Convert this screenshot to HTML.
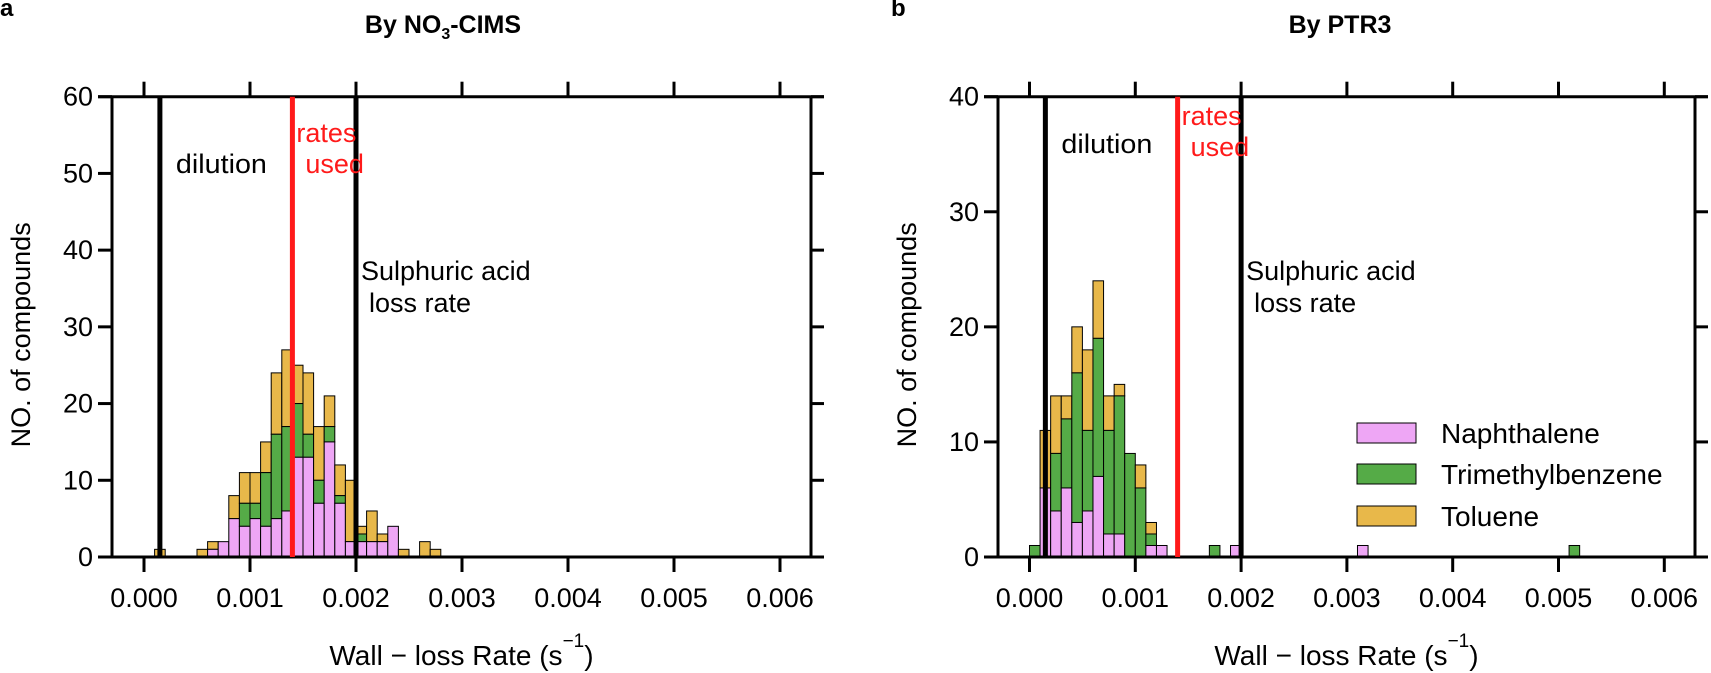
<!DOCTYPE html>
<html><head><meta charset="utf-8"><style>
html,body{margin:0;padding:0;background:#fff;}
svg{display:block;font-family:"Liberation Sans",Arial,sans-serif;}
</style></head><body>
<svg id="s" width="1711" height="673" viewBox="0 0 1711 673" xmlns="http://www.w3.org/2000/svg">
<text x="0" y="16" font-size="24" font-weight="bold">a</text>
<text x="891" y="16" font-size="24" font-weight="bold">b</text>
<text x="443" y="33" font-size="25" font-weight="bold" text-anchor="middle">By NO<tspan font-size="16" dy="6">3</tspan><tspan dy="-6">-CIMS</tspan></text>
<text x="1340" y="33" font-size="25" font-weight="bold" text-anchor="middle">By PTR3</text>
<g id="L"></g><g id="R"></g>
</svg>
<script>
var NS="http://www.w3.org/2000/svg";
function el(p,t,a,txt){var e=document.createElementNS(NS,t);for(var k in a)e.setAttribute(k,a[k]);if(txt!=null)e.textContent=txt;p.appendChild(e);return e;}
var PINK="#eea6f5",GREEN="#55ab47",TAN="#e8b84a";
function panel(g,x0,sx,ymax,yStep,L,R,bins,ann){
  var T=96.7,B=557,sy=(B-T)/ymax;
  function X(v){return x0+v*sx;} function Y(c){return B-c*sy;}
  bins.forEach(function(b){
    var xa=X(b[0]),w=X(b[0]+0.0001)-xa,p=b[1],gr=b[2],t=b[3];
    if(t>gr) el(g,"rect",{x:xa,y:Y(t),width:w,height:Y(gr)-Y(t),fill:TAN,stroke:"#000","stroke-width":1});
    if(gr>p) el(g,"rect",{x:xa,y:Y(gr),width:w,height:Y(p)-Y(gr),fill:GREEN,stroke:"#000","stroke-width":1});
    if(p>0) el(g,"rect",{x:xa,y:Y(p),width:w,height:Y(0)-Y(p),fill:PINK,stroke:"#000","stroke-width":1});
  });
  el(g,"line",{x1:L,y1:T,x2:L,y2:B,stroke:"#000","stroke-width":3});
  el(g,"line",{x1:R,y1:T,x2:R,y2:B,stroke:"#000","stroke-width":3});
  el(g,"line",{x1:L-14,y1:T,x2:R+13,y2:T,stroke:"#000","stroke-width":3});
  el(g,"line",{x1:L-14,y1:B,x2:R+13,y2:B,stroke:"#000","stroke-width":3});
  for(var c=0;c<=ymax;c+=yStep){
    el(g,"line",{x1:L-14,y1:Y(c),x2:L,y2:Y(c),stroke:"#000","stroke-width":3});
    el(g,"line",{x1:R,y1:Y(c),x2:R+13,y2:Y(c),stroke:"#000","stroke-width":3});
    el(g,"text",{x:L-19,y:Y(c)+9,"font-size":27,"text-anchor":"end"},String(c));
  }
  for(var i=0;i<=6;i++){
    var xx=X(i*0.001);
    el(g,"line",{x1:xx,y1:T-15,x2:xx,y2:T,stroke:"#000","stroke-width":3});
    el(g,"line",{x1:xx,y1:B,x2:xx,y2:B+15,stroke:"#000","stroke-width":3});
    el(g,"text",{x:xx,y:607,"font-size":27,"text-anchor":"middle"},"0.00"+i);
  }
  el(g,"line",{x1:X(0.00015),y1:T,x2:X(0.00015),y2:B,stroke:"#000","stroke-width":5});
  el(g,"line",{x1:X(0.002),y1:T,x2:X(0.002),y2:B,stroke:"#000","stroke-width":5});
  el(g,"line",{x1:X(0.0014),y1:T,x2:X(0.0014),y2:B,stroke:"#ff1a1a","stroke-width":5});
  el(g,"text",{x:X(0.00015)+16,y:ann[0],"font-size":27,textLength:91,lengthAdjust:"spacingAndGlyphs"},"dilution");
  el(g,"text",{x:X(0.0014)+4,y:ann[1],"font-size":27,fill:"#ff1a1a"},"rates");
  el(g,"text",{x:X(0.0014)+13,y:ann[1]+31,"font-size":27,fill:"#ff1a1a"},"used");
  el(g,"text",{x:X(0.002)+5,y:280,"font-size":27},"Sulphuric acid");
  el(g,"text",{x:X(0.002)+13,y:312,"font-size":27},"loss rate");
  var cx=(L+R)/2;
  var t=el(g,"text",{x:cx,y:665,"font-size":28,"text-anchor":"middle"},"Wall \u2212 loss Rate (s");
  el(t,"tspan",{"font-size":19,dy:-18},"\u22121");
  el(t,"tspan",{dy:18},")");
  el(g,"text",{transform:"translate("+(L-82)+","+((T+B)/2+8)+") rotate(-90)","font-size":27,"text-anchor":"middle"},"NO. of compounds");
}
var lb=[[0.0001,0,0,1],[0.0005,0,0,1],[0.0006,1,1,2],[0.0007,2,2,2],[0.0008,5,5,8],[0.0009,4,7,11],[0.0010,5,7,11],[0.0011,4,11,15],[0.0012,5,16,24],[0.0013,6,17,27],[0.0014,13,20,25],[0.0015,13,16,24],[0.0016,7,10,17],[0.0017,15,17,21],[0.0018,7,8,12],[0.0019,2,2,10],[0.0020,2,3,4],[0.0021,2,2,6],[0.0022,2,2,3],[0.0023,4,4,4],[0.0024,0,0,1],[0.0026,0,0,2],[0.0027,0,0,1]];
panel(document.getElementById("L"),144,106000,60,10,112,811,lb,[173,142]);
var rb=[[0.0000,0,1,1],[0.0001,6,6,11],[0.0002,4,9,14],[0.0003,6,12,14],[0.0004,3,16,20],[0.0005,4,11,18],[0.0006,7,19,24],[0.0007,2,11,14],[0.0008,2,14,15],[0.0009,0,9,9],[0.0010,0,6,8],[0.0011,1,2,3],[0.0012,1,1,1],[0.0017,0,1,1],[0.0019,1,1,1],[0.0031,1,1,1],[0.0051,0,1,1]];
panel(document.getElementById("R"),1029.5,105800,40,10,998,1695,rb,[153,125]);
var s=document.getElementById("s");
[["Naphthalene",PINK,423],["Trimethylbenzene",GREEN,464],["Toluene",TAN,506]].forEach(function(l){
  el(s,"rect",{x:1357,y:l[2],width:59,height:20,fill:l[1],stroke:"#000","stroke-width":1});
  el(s,"text",{x:1441,y:l[2]+20,"font-size":28},l[0]);
});
</script>
</body></html>
